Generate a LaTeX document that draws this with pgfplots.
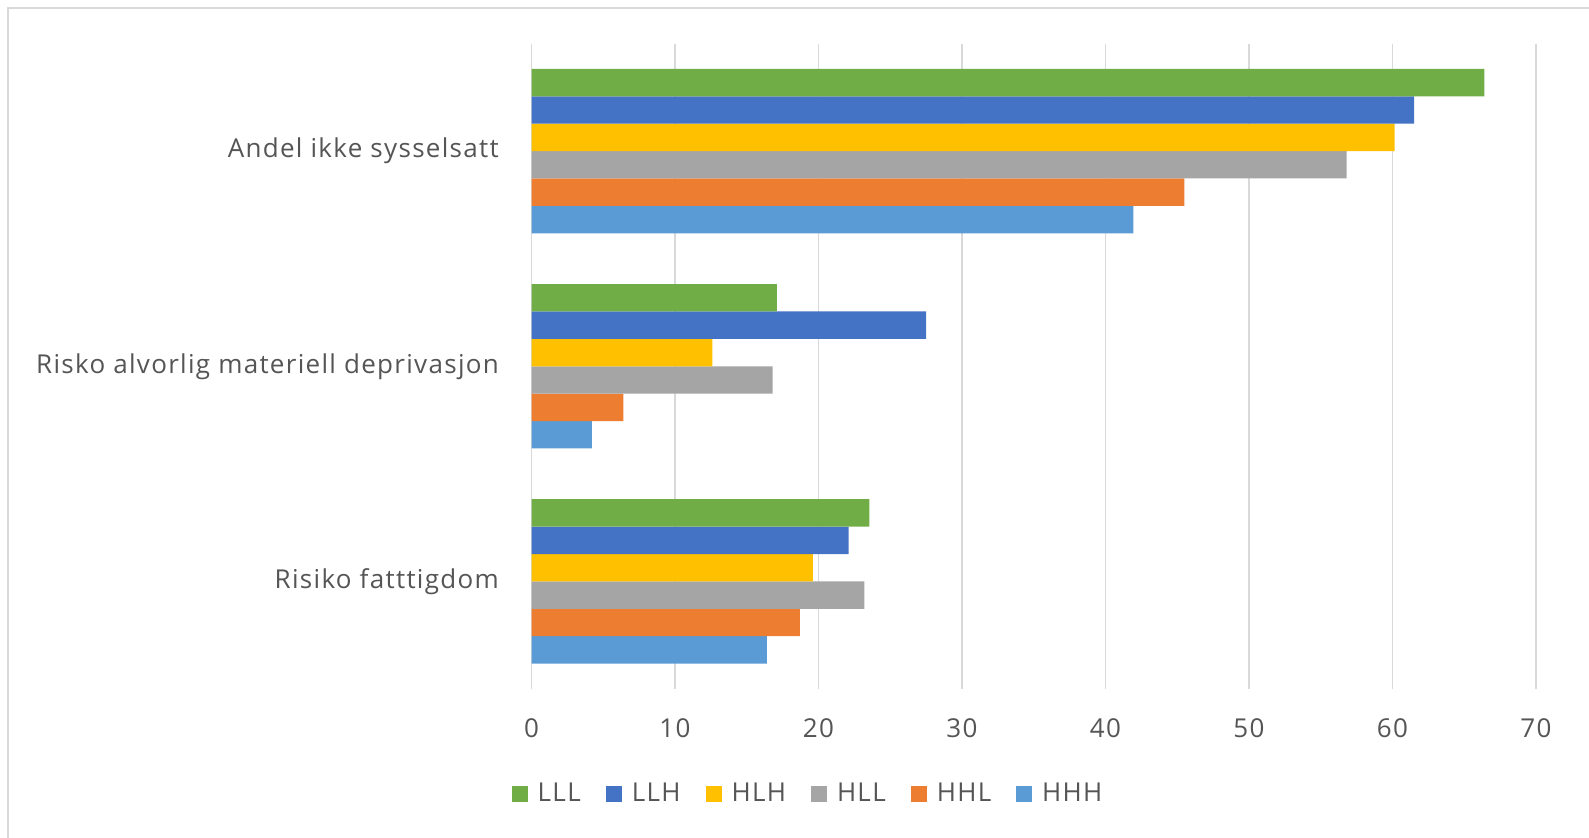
\documentclass[border=0pt]{standalone}
\usepackage{pgfplots}
\pgfplotsset{compat=1.18}
\usepackage{fontspec}
\setmainfont{Open Sans}[LetterSpace=5]

\definecolor{cLLL}{HTML}{70AD47}
\definecolor{cLLH}{HTML}{4472C4}
\definecolor{cHLH}{HTML}{FFC000}
\definecolor{cHLL}{HTML}{A5A5A5}
\definecolor{cHHL}{HTML}{ED7D31}
\definecolor{cHHH}{HTML}{5B9BD5}
\definecolor{txt}{HTML}{555555}
\definecolor{gridc}{HTML}{D9D9D9}

\begin{document}
\begin{tikzpicture}
\useasboundingbox (0,0) rectangle (794.5pt,418.5pt);
% chart area border, runs off the right and bottom edge
\begin{scope}
\clip (0,0) rectangle (794.5pt,418.5pt);
\draw[gridc, line width=1pt] (4.15pt,-20pt) rectangle (820pt,414.35pt);
\end{scope}

\begin{axis}[
    at={(265.75pt,74pt)}, anchor=south west,
    scale only axis,
    width=502.25pt, height=322.75pt,
    xbar=0pt, bar width=13.7pt,
    xmin=0, xmax=70, xtick={0,10,...,70},
    ymin=-0.5, ymax=2.5, y dir=reverse,
    ytick={0,1,2},
    yticklabels={Andel ikke sysselsatt, Risko alvorlig materiell deprivasjon, Risiko fatttigdom},
    axis line style={draw=none},
    tick style={draw=none},
    xmajorgrids,
    grid style={gridc, line width=0.9pt},
    xticklabel style={font=\fontsize{13}{15}\selectfont, text=txt, inner sep=0pt, anchor=north, yshift=-14.5pt},
    yticklabel style={font=\fontsize{13}{15}\selectfont, text=txt, inner sep=0pt, anchor=east, xshift=-11.85pt},
    /pgf/number format/assume math mode=true,
    legend columns=6,
    reverse legend,
    legend style={at={(0.2743,-0.1627)}, anchor=center, draw=none, fill=none,
        font=\fontsize{13}{15}\selectfont, text=txt,
        nodes={inner sep=0pt},
        /tikz/every odd column/.append style={column sep=5pt},
        /tikz/every even column/.append style={column sep=12.5pt}},
    legend image code/.code={\fill[#1] (0pt,-3.85pt) rectangle (8pt,3.85pt);},
]

% plotted bottom to top: HHH first, LLL last (on top)
\addplot[fill=cHHH, draw=none] coordinates {(41.95,0) (4.2,1) (16.4,2)};
\addlegendentry{HHH}
\addplot[fill=cHHL, draw=none] coordinates {(45.5,0) (6.4,1) (18.7,2)};
\addlegendentry{HHL}
\addplot[fill=cHLL, draw=none] coordinates {(56.8,0) (16.8,1) (23.2,2)};
\addlegendentry{HLL}
\addplot[fill=cHLH, draw=none] coordinates {(60.15,0) (12.6,1) (19.6,2)};
\addlegendentry{HLH}
\addplot[fill=cLLH, draw=none] coordinates {(61.5,0) (27.5,1) (22.1,2)};
\addlegendentry{LLH}
\addplot[fill=cLLL, draw=none] coordinates {(66.4,0) (17.1,1) (23.55,2)};
\addlegendentry{LLL}

\end{axis}
\end{tikzpicture}
\end{document}
